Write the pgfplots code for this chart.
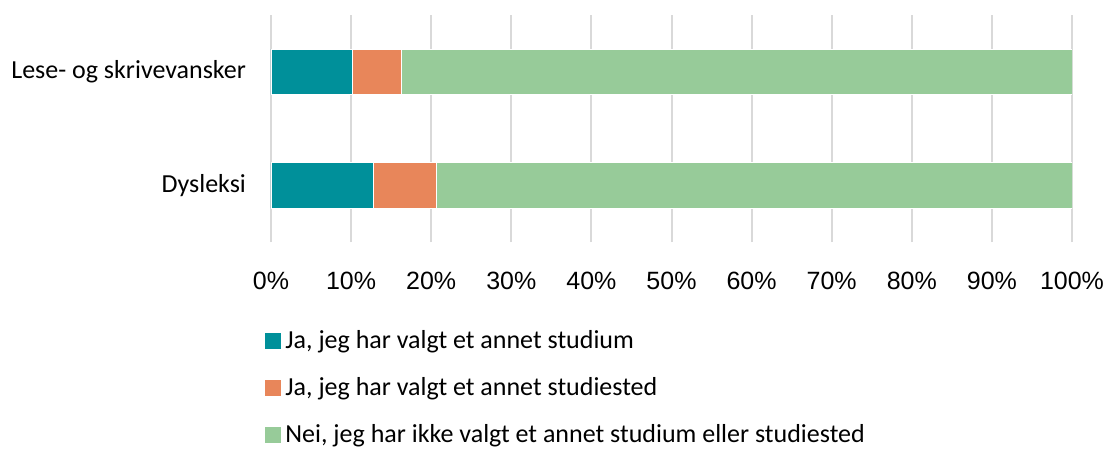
\documentclass[border=0pt]{standalone}
\usepackage{pgfplots}
\pgfplotsset{compat=1.18}
\usepackage{fontspec}
\setmainfont{Carlito}
\newfontfamily\arialfont{Liberation Sans}
\definecolor{cteal}{HTML}{00909A}
\definecolor{corange}{HTML}{E8865A}
\definecolor{cgreen}{HTML}{97CB99}
\begin{document}
\begin{tikzpicture}
\useasboundingbox (0,0) rectangle (553.5pt,-225.5pt);
\begin{axis}[
  at={(135.5pt,-7.5pt)}, anchor=north west,
  width=400.5pt, height=113.5pt, scale only axis,
  xbar stacked, bar width=22.75pt,
  xmin=0, xmax=100, ymin=-0.5, ymax=1.5,
  ytick={0,1}, yticklabels={Dysleksi, Lese- og skrivevansker},
  xtick={0,10,...,100},
  xticklabels={0\%,10\%,20\%,30\%,40\%,50\%,60\%,70\%,80\%,90\%,100\%},
  xmajorgrids, grid style={draw=black!15, line width=1pt},
  axis line style={draw=none}, major tick style={draw=none},
  xticklabel style={font=\arialfont\fontsize{12.5}{15}\selectfont, yshift=-11.5pt},
  yticklabel style={font=\fontsize{13}{15.6}\selectfont, xshift=-9pt},
  legend cell align=left,
  legend style={at={(0,0)}, anchor=north west, xshift=-3pt, yshift=-42pt,
    draw=none, fill=none, font=\fontsize{13}{15.6}\selectfont, row sep=9pt,
    inner sep=0pt},
  legend image code/.code={\fill[#1,draw=none] (0pt,-4pt) rectangle (8pt,4pt);},
]
\addplot[fill=cteal, draw=white, line width=0.3pt] coordinates {(12.8,0) (10.1,1)};
\addplot[fill=corange, draw=white, line width=0.3pt] coordinates {(7.8,0) (6.2,1)};
\addplot[fill=cgreen, draw=white, line width=0.3pt] coordinates {(79.4,0) (83.7,1)};
\legend{Ja{,} jeg har valgt et annet studium, Ja{,} jeg har valgt et annet studiested, Nei{,} jeg har ikke valgt et annet studium eller studiested}
\end{axis}
\end{tikzpicture}
\end{document}
